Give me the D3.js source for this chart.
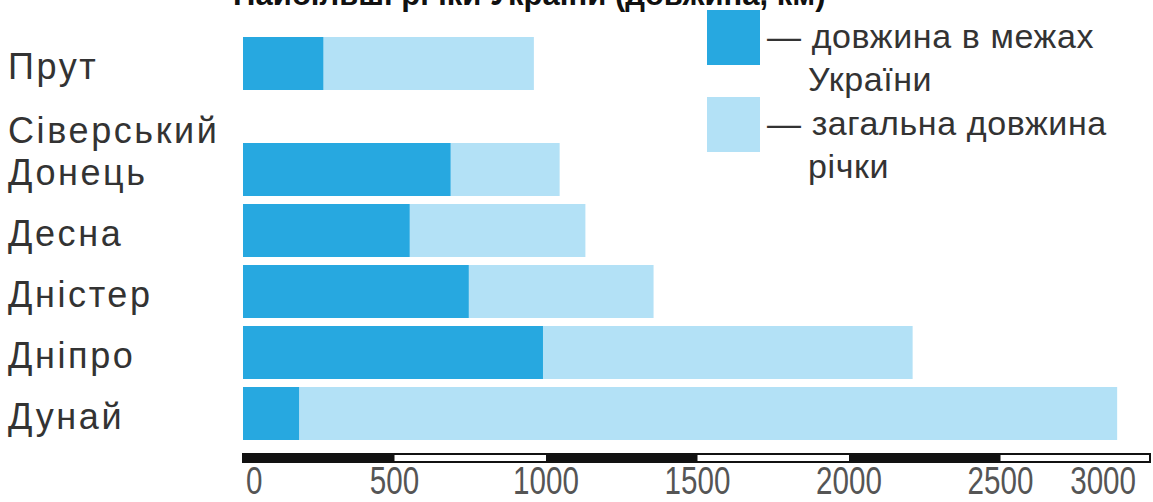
<!DOCTYPE html>
<html>
<head>
<meta charset="utf-8">
<script src="https://cdn.jsdelivr.net/npm/d3@7"></script>
<style>
  body { margin: 0; background: #fff; }
  svg { display: block; }
  .cat { font-family: "Liberation Sans", Arial, sans-serif; font-size: 36px; fill: #333; letter-spacing: 2.6px; }
  .tick-label { font-family: "Liberation Sans", Arial, sans-serif; font-size: 37px; fill: #555; }
  .legend-text { font-family: "Liberation Sans", Arial, sans-serif; font-size: 34px; fill: #333; letter-spacing: 0.6px; }
  .title { font-family: "Liberation Sans", Arial, sans-serif; font-size: 31px; font-weight: bold; fill: #111; }
</style>
</head>
<body>
<div id="chart"></div>
<script>
// river names (lines of the label) and lengths, km
var rivers = ["Прут", "Сіверський Донець", "Десна", "Дністер", "Дніпро", "Дунай"];
var riverLabels = [["Прут"], ["Сіверський", "Донець"], ["Десна"], ["Дністер"], ["Дніпро"], ["Дунай"]];
var inUkraine = [265, 685, 550, 745, 990, 185];
var totalLength = [960, 1045, 1130, 1355, 2210, 2885];
var tickValues = [0, 500, 1000, 1500, 2000, 2500, 3000];
var legendItems = [
  {lines: ["— довжина в межах", "України"], color: "#27a8e0"},
  {lines: ["— загальна довжина", "річки"], color: "#b3e1f6"}
];
var titleText = "Найбільші річки України (довжина, км)";

var W = 1153, H = 502;
var DARK = "#27a8e0", LIGHT = "#b3e1f6";

var svg = d3.select("#chart").append("svg")
  .attr("width", W)
  .attr("height", H);

var x = d3.scaleLinear()
  .domain([0, 3000])
  .range([243, 1152]);

// 6 rows, the first row is followed by a bigger gap (two-line label below)
var y = d3.scaleBand()
  .domain(rivers)
  .range([37, 395])
  .paddingInner(8 / 61)
  .paddingOuter(0);
var extraGap = 45;
function rowY(d, i) { return y(d) + (i > 0 ? extraGap : 0); }

var data = rivers.map(function(r, i) {
  return {name: r, lines: riverLabels[i], ua: inUkraine[i], total: totalLength[i], i: i};
});

// title (cut at the top of the picture, as in the source)
svg.append("text")
  .attr("class", "title")
  .attr("x", 233)
  .attr("y", 5)
  .text(titleText);

// bars
var rows = svg.selectAll("g.row")
  .data(data)
  .enter().append("g")
  .attr("class", "row")
  .attr("transform", function(d) { return "translate(0," + rowY(d.name, d.i) + ")"; });

rows.append("rect")
  .attr("x", x(0))
  .attr("width", function(d) { return x(d.total) - x(0); })
  .attr("height", y.bandwidth())
  .attr("fill", LIGHT);

rows.append("rect")
  .attr("x", x(0))
  .attr("width", function(d) { return x(d.ua) - x(0); })
  .attr("height", y.bandwidth())
  .attr("fill", DARK);

// category labels, baseline near bottom of bar
rows.each(function(d) {
  var g = d3.select(this);
  var n = d.lines.length;
  d.lines.forEach(function(line, k) {
    g.append("text")
      .attr("class", "cat")
      .attr("x", 8)
      .attr("y", y.bandwidth() - 11 - (n - 1 - k) * 42)
      .text(line);
  });
});

// scale bar axis: alternating black / white segments
var axisY = 453, axisH = 10;
var segs = d3.pairs(tickValues);
svg.append("rect")
  .attr("x", x(0))
  .attr("y", axisY + 1)
  .attr("width", x(3000) - x(0) - 2)
  .attr("height", axisH - 2)
  .attr("fill", "#fff")
  .attr("stroke", "#111")
  .attr("stroke-width", 2);
svg.selectAll("rect.seg")
  .data(segs.filter(function(s, i) { return i % 2 === 0; }))
  .enter().append("rect")
  .attr("class", "seg")
  .attr("x", function(s) { return x(s[0]); })
  .attr("y", axisY)
  .attr("width", function(s) { return x(s[1]) - x(s[0]); })
  .attr("height", axisH)
  .attr("fill", "#111");

// condensed tick labels
var last = tickValues.length - 1;
svg.selectAll("text.tick-label")
  .data(tickValues)
  .enter().append("text")
  .attr("class", "tick-label")
  .attr("transform", function(d, i) {
    var px = i === 0 ? x(d) + 3 : (i === last ? x(d) - 16 : x(d));
    return "translate(" + px + ",494) scale(0.8,1.05)";
  })
  .attr("text-anchor", function(d, i) { return i === 0 ? "start" : (i === last ? "end" : "middle"); })
  .text(function(d) { return d; });

// legend
var leg = svg.selectAll("g.legend")
  .data(legendItems)
  .enter().append("g")
  .attr("class", "legend")
  .attr("transform", function(d, i) { return "translate(707," + (10 + i * 87) + ")"; });

leg.append("rect")
  .attr("width", 53)
  .attr("height", 55)
  .attr("fill", function(d) { return d.color; });

leg.each(function(d) {
  var g = d3.select(this);
  d.lines.forEach(function(line, k) {
    g.append("text")
      .attr("class", "legend-text")
      .attr("x", k === 0 ? 60 : 101)
      .attr("y", 38 + k * 43)
      .text(line);
  });
});
</script>
</body>
</html>
